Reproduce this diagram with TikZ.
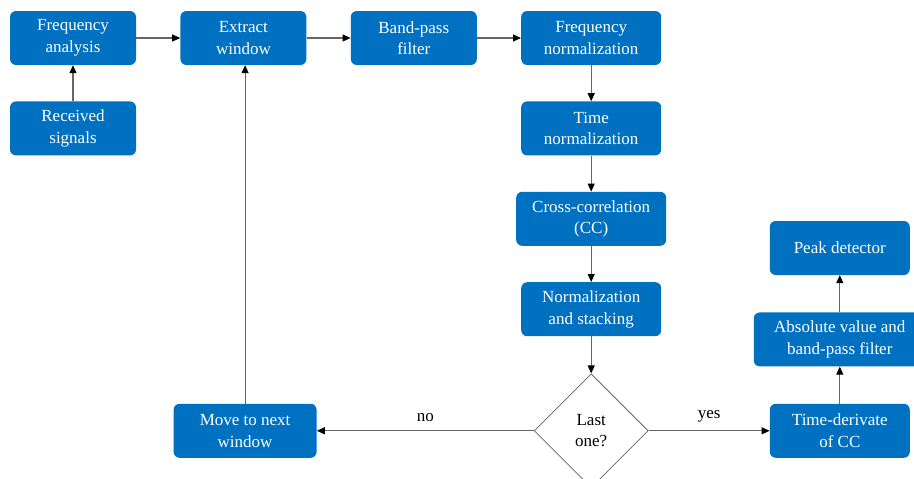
\documentclass[tikz,border=0pt]{standalone}
\usepackage{fontspec}
\setmainfont{Liberation Serif}
\usetikzlibrary{arrows.meta, positioning, shapes.geometric}
\definecolor{boxblue}{RGB}{0,112,192}

\begin{document}
\begin{tikzpicture}[
  font=\fontsize{17}{21.5}\selectfont,
  box/.style={fill=boxblue, text=white, rounded corners=6pt, align=center, minimum height=54pt, minimum width=126pt},
  widebox/.style={box, minimum width=140pt},
  decision/.style={diamond, draw=black!60, fill=white, line width=0.8pt, aspect=1, minimum width=114pt, minimum height=114pt, inner sep=0pt, align=center},
  arrow/.style={-{Triangle[length=8pt, width=7pt, color=black]}, draw=black!60, line width=1.1pt}
]
\clip (0pt,0pt) rectangle (914pt,-479pt);

\node[box] (freq) at (73pt,-38pt) {Frequency\\analysis};
\node[box, below=36pt of freq] (recv) {Received\\signals};
\node[box, right=44pt of freq] (extract) {Extract\\window};
\node[box, right=44pt of extract] (bandpass) {Band-pass\\filter};
\node[widebox, right=44pt of bandpass] (freqnorm) {Frequency\\normalization};
\node[widebox, below=36pt of freqnorm] (timenorm) {Time\\normalization};
\node[box, minimum width=150pt, below=36pt of timenorm] (xcorr) {Cross-correlation\\(CC)};
\node[widebox, below=36pt of xcorr] (stack) {Normalization\\and stacking};
\node[decision, below=37pt of stack] (last) {Last\\one?};
\node[box, minimum width=143pt, left=217pt of last] (move) {Move to next\\window};
\node[widebox, right=121pt of last] (deriv) {Time-derivate\\of CC};
\node[box, minimum width=172pt, above=37pt of deriv] (absval) {Absolute value and\\band-pass filter};
\node[widebox, above=37pt of absval] (peak) {Peak detector};

\draw[arrow] (recv) -- (freq);
\draw[arrow] (freq) -- (extract);
\draw[arrow] (extract) -- (bandpass);
\draw[arrow] (bandpass) -- (freqnorm);
\draw[arrow] (freqnorm) -- (timenorm);
\draw[arrow] (timenorm) -- (xcorr);
\draw[arrow] (xcorr) -- (stack);
\draw[arrow] (stack) -- (last);
\draw[arrow] (last) -- node[above=5pt]{no} (move);
\draw[arrow] (move.north) -- (move.north |- extract.south);
\draw[arrow] (last) -- node[above=5pt]{yes} (deriv);
\draw[arrow] (deriv) -- (absval);
\draw[arrow] (absval) -- (peak);

\end{tikzpicture}
\end{document}
